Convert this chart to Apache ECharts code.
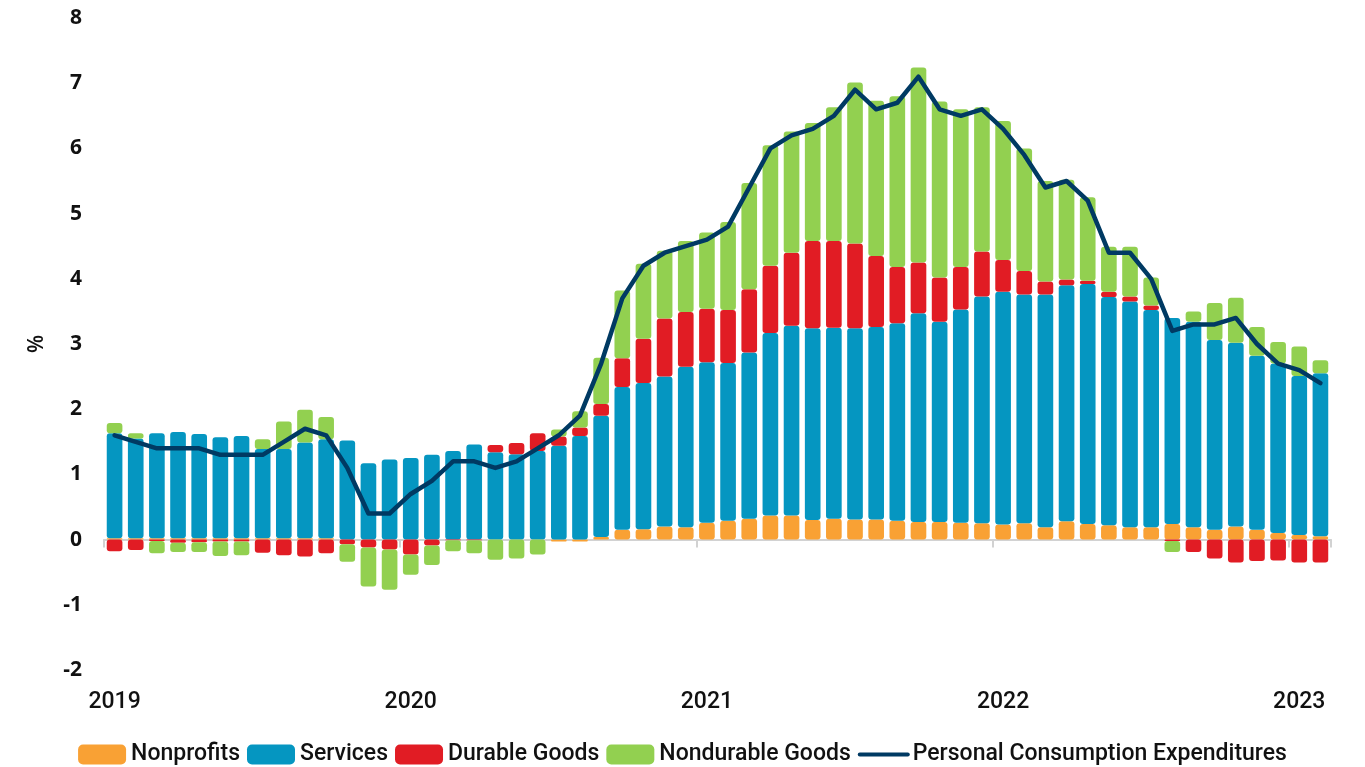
<!DOCTYPE html>
<html>
<head>
<meta charset="utf-8">
<script src="https://cdn.jsdelivr.net/npm/echarts@6/dist/echarts.min.js"></script>
<style>
html,body{margin:0;padding:0;background:#fff;}
#chart{width:1365px;height:767px;}
</style>
</head>
<body>
<div id="chart"></div>
<script>
const categories = ['Apr 2019','May 2019','Jun 2019','Jul 2019','Aug 2019','Sep 2019','Oct 2019','Nov 2019','Dec 2019',
'Jan 2020','Feb 2020','Mar 2020','Apr 2020','May 2020','Jun 2020','Jul 2020','Aug 2020','Sep 2020','Oct 2020','Nov 2020','Dec 2020',
'Jan 2021','Feb 2021','Mar 2021','Apr 2021','May 2021','Jun 2021','Jul 2021','Aug 2021','Sep 2021','Oct 2021','Nov 2021','Dec 2021',
'Jan 2022','Feb 2022','Mar 2022','Apr 2022','May 2022','Jun 2022','Jul 2022','Aug 2022','Sep 2022','Oct 2022','Nov 2022','Dec 2022',
'Jan 2023','Feb 2023','Mar 2023','Apr 2023','May 2023','Jun 2023','Jul 2023','Aug 2023','Sep 2023','Oct 2023','Nov 2023','Dec 2023',
'Jan 2024'];

const nonprofits = [0.02,0.02,0.02,0.02,0.02,0.02,0.02,0.02,0.02,0.02,0.02,
0,0,0,0,0,0,0,0,0,0,
-0.03,-0.03,0.04,0.15,0.16,0.20,0.19,0.26,0.29,0.32,0.37,0.37,0.30,0.32,0.31,0.31,0.29,0.27,0.27,0.26,0.25,0.23,0.25,0.19,0.28,0.24,0.22,0.19,0.19,0.24,0.19,0.15,0.20,0.15,0.10,0.07,0.05];

const services = [1.61,1.53,1.61,1.63,1.60,1.55,1.57,1.37,1.37,1.47,1.52,
1.52,1.17,1.23,1.25,1.30,1.36,1.46,1.34,1.31,1.36,
1.44,1.59,1.86,2.19,2.24,2.30,2.46,2.46,2.42,2.55,2.80,2.91,2.94,2.93,2.93,2.95,3.03,3.20,3.07,3.27,3.48,3.57,3.51,3.57,3.62,3.68,3.50,3.46,3.33,3.16,3.15,2.91,2.82,2.67,2.60,2.44,2.50];

const durableGoods = [-0.18,-0.16,-0.02,-0.05,-0.04,-0.03,-0.03,-0.20,-0.24,-0.26,-0.21,
-0.07,-0.12,-0.15,-0.23,-0.09,-0.01,-0.01,0.11,0.17,0.27,
0.14,0.13,0.18,0.44,0.68,0.89,0.84,0.82,0.81,0.97,1.03,1.12,1.34,1.33,1.30,1.09,0.86,0.78,0.68,0.65,0.69,0.49,0.36,0.20,0.09,0.05,0.08,0.08,0.07,-0.02,-0.19,-0.29,-0.35,-0.33,-0.32,-0.35,-0.35];

const nondurableGoods = [0.16,0.08,-0.19,-0.14,-0.15,-0.22,-0.21,0.15,0.42,0.50,0.34,
-0.27,-0.60,-0.62,-0.31,-0.30,-0.17,-0.20,-0.31,-0.29,-0.23,
0.11,0.25,0.71,1.04,1.15,1.04,1.09,1.17,1.35,1.63,1.85,1.86,1.81,2.05,2.47,2.38,2.62,2.99,2.70,2.42,2.21,2.13,1.88,1.54,1.53,1.28,0.69,0.76,0.43,-0.17,0.16,0.57,0.69,0.44,0.33,0.45,0.20];

const pce = [1.6,1.5,1.4,1.4,1.4,1.3,1.3,1.3,1.5,1.7,1.6,1.1,0.4,0.4,0.7,0.9,1.2,1.2,1.1,1.2,
1.4,1.6,1.9,2.7,3.7,4.2,4.4,4.5,4.6,4.8,5.4,6.0,6.2,6.3,6.5,6.9,6.6,6.7,7.1,6.6,
6.5,6.6,6.3,5.9,5.4,5.5,5.2,4.4,4.4,4.0,3.2,3.3,3.3,3.4,3.0,2.7,2.6,2.4];

const seriesNames = ['Nonprofits','Services','Durable Goods','Nondurable Goods','Personal Consumption Expenditures'];
const colors = ['#F9A134','#0596C1','#E11C24','#92D050','#003A63'];

const chart = echarts.init(document.getElementById('chart'), null, {renderer:'canvas'});
const labelFont = 'Roboto, "Liberation Sans", sans-serif';

function barSeries(name, data, color){
  return {
    name: name, type: 'bar', stack: 'total', data: data,
    xAxisIndex: 0, barWidth: '74%',
    itemStyle: {color: color, borderRadius: 3},
    emphasis: {disabled: true}
  };
}

chart.setOption({
  animation: false,
  backgroundColor: '#ffffff',
  grid: {left: 104, right: 34, top: 18, bottom: 97},
  legend: {
    top: 738, left: 'center', itemWidth: 48, itemHeight: 20, itemGap: 7,
    data: [
      {name: seriesNames[0], icon: 'roundRect'},
      {name: seriesNames[1], icon: 'roundRect'},
      {name: seriesNames[2], icon: 'roundRect'},
      {name: seriesNames[3], icon: 'roundRect'},
      {name: seriesNames[4], itemStyle: {color: 'rgba(0,0,0,0)', borderWidth: 0, opacity: 0}, lineStyle: {width: 4, color: colors[4]}}
    ],
    textStyle: {fontSize: 23, color: '#111', fontFamily: labelFont, fontWeight: 500}
  },
  xAxis: [
    {
      type: 'category', data: categories, position: 'bottom',
      axisLine: {show: false, onZero: false}, axisTick: {show: false},
      axisLabel: {interval: 13, formatter: v => v.slice(-4), fontSize: 23, fontWeight: 500,
                  color: '#111', fontFamily: labelFont, margin: 21}
    },
    {
      type: 'category', data: categories, position: 'bottom',
      axisLine: {show: true, onZero: true, lineStyle: {color: '#d2d2d2', width: 2}},
      axisTick: {show: true, interval: 13, length: 8, lineStyle: {color: '#d2d2d2', width: 2}},
      axisLabel: {show: false}
    }
  ],
  yAxis: {
    type: 'value', min: -2, max: 8, interval: 1,
    name: '%', nameLocation: 'middle', nameGap: 56,
    nameTextStyle: {fontSize: 21, color: '#111', fontFamily: '"Open Sans", sans-serif', fontWeight: 600},
    axisLine: {show: false}, axisTick: {show: false}, splitLine: {show: false},
    axisLabel: {fontSize: 21, fontWeight: 'bold', color: '#111', fontFamily: '"Open Sans", sans-serif', margin: 22}
  },
  series: [
    barSeries(seriesNames[0], nonprofits, colors[0]),
    barSeries(seriesNames[1], services, colors[1]),
    barSeries(seriesNames[2], durableGoods, colors[2]),
    barSeries(seriesNames[3], nondurableGoods, colors[3]),
    {
      name: seriesNames[4], type: 'line', data: pce, xAxisIndex: 0,
      symbol: 'none', showSymbol: false, z: 5,
      lineStyle: {color: colors[4], width: 4.5, join: 'round', cap: 'round'},
      itemStyle: {color: colors[4]},
      emphasis: {disabled: true}
    }
  ]
});
</script>
</body>
</html>
